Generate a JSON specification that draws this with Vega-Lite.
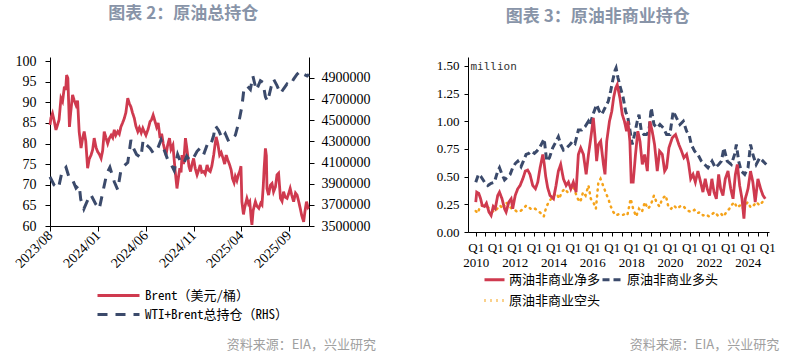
{
"$schema":"https://vega.github.io/schema/vega-lite/v6.json",
"padding":{"left":12,"top":5,"right":5,"bottom":5},
"config":{"view":{"stroke":null},"axis":{"domainColor":"#000","tickColor":"#000","labelColor":"#000","grid":false,"labelFont":"Liberation Serif"},"legend":{"labelFont":"'Noto Sans Mono CJK SC','Noto Sans CJK SC',monospace","labelColor":"#000","labelFontSize":13,"symbolType":"stroke","title":null}},
"datasets":{
"brent":[{"d":"2023-08-01","v":84.5},{"d":"2023-08-04","v":86.2},{"d":"2023-08-09","v":87.3},{"d":"2023-08-14","v":85.6},{"d":"2023-08-20","v":83.3},{"d":"2023-08-25","v":84.5},{"d":"2023-08-30","v":85.8},{"d":"2023-09-05","v":91},{"d":"2023-09-10","v":90.2},{"d":"2023-09-16","v":93.8},{"d":"2023-09-20","v":93.0},{"d":"2023-09-23","v":96.6},{"d":"2023-09-27","v":95.8},{"d":"2023-10-02","v":84},{"d":"2023-10-06","v":87.5},{"d":"2023-10-12","v":91.8},{"d":"2023-10-17","v":90.5},{"d":"2023-10-23","v":89.3},{"d":"2023-10-28","v":90.4},{"d":"2023-11-02","v":82.9},{"d":"2023-11-08","v":78.9},{"d":"2023-11-13","v":81.2},{"d":"2023-11-18","v":82.9},{"d":"2023-11-23","v":80.6},{"d":"2023-11-29","v":74.0},{"d":"2023-12-04","v":76.2},{"d":"2023-12-10","v":77.2},{"d":"2023-12-15","v":78.5},{"d":"2023-12-20","v":81.3},{"d":"2023-12-26","v":79.0},{"d":"2023-12-31","v":78.0},{"d":"2024-01-06","v":77.3},{"d":"2024-01-11","v":76.4},{"d":"2024-01-16","v":78.3},{"d":"2024-01-21","v":82.9},{"d":"2024-01-26","v":81.5},{"d":"2024-02-01","v":80.0},{"d":"2024-02-06","v":81.2},{"d":"2024-02-12","v":82.0},{"d":"2024-02-17","v":81.4},{"d":"2024-02-22","v":83.3},{"d":"2024-02-27","v":82.0},{"d":"2024-03-04","v":82.9},{"d":"2024-03-09","v":82.3},{"d":"2024-03-14","v":84.0},{"d":"2024-03-20","v":85.1},{"d":"2024-03-25","v":86.1},{"d":"2024-03-30","v":87.5},{"d":"2024-04-05","v":91.0},{"d":"2024-04-10","v":89.7},{"d":"2024-04-15","v":88.9},{"d":"2024-04-20","v":87.5},{"d":"2024-04-26","v":86.1},{"d":"2024-05-01","v":84.2},{"d":"2024-05-07","v":82.9},{"d":"2024-05-12","v":83.8},{"d":"2024-05-18","v":82.6},{"d":"2024-05-23","v":83.7},{"d":"2024-05-28","v":82.8},{"d":"2024-06-02","v":82.0},{"d":"2024-06-09","v":83.5},{"d":"2024-06-15","v":85.3},{"d":"2024-06-20","v":85.8},{"d":"2024-06-25","v":86.9},{"d":"2024-06-30","v":85.6},{"d":"2024-07-06","v":84.0},{"d":"2024-07-11","v":85.0},{"d":"2024-07-17","v":81.3},{"d":"2024-07-22","v":82.4},{"d":"2024-07-27","v":80.0},{"d":"2024-08-05","v":77.2},{"d":"2024-08-10","v":79.5},{"d":"2024-08-16","v":81.3},{"d":"2024-08-21","v":78.6},{"d":"2024-08-27","v":79.6},{"d":"2024-09-03","v":73.5},{"d":"2024-09-09","v":69.1},{"d":"2024-09-14","v":72.0},{"d":"2024-09-18","v":74.0},{"d":"2024-09-22","v":73.0},{"d":"2024-09-25","v":77.2},{"d":"2024-09-30","v":75.0},{"d":"2024-10-06","v":81.3},{"d":"2024-10-10","v":79.0},{"d":"2024-10-13","v":77.2},{"d":"2024-10-17","v":74.5},{"d":"2024-10-22","v":73.2},{"d":"2024-10-27","v":75.0},{"d":"2024-11-01","v":76.4},{"d":"2024-11-06","v":74.0},{"d":"2024-11-12","v":72.4},{"d":"2024-11-17","v":73.5},{"d":"2024-11-22","v":74.8},{"d":"2024-11-27","v":73.0},{"d":"2024-12-03","v":73.2},{"d":"2024-12-08","v":72.6},{"d":"2024-12-14","v":74.8},{"d":"2024-12-19","v":73.5},{"d":"2024-12-24","v":73.2},{"d":"2024-12-29","v":74.5},{"d":"2025-01-04","v":77.2},{"d":"2025-01-08","v":79.5},{"d":"2025-01-12","v":81.6},{"d":"2025-01-17","v":80.0},{"d":"2025-01-23","v":77.2},{"d":"2025-01-28","v":77.8},{"d":"2025-02-03","v":76.4},{"d":"2025-02-08","v":75.0},{"d":"2025-02-13","v":77.2},{"d":"2025-02-18","v":76.0},{"d":"2025-02-24","v":74.8},{"d":"2025-03-01","v":73.5},{"d":"2025-03-05","v":71.5},{"d":"2025-03-10","v":70.5},{"d":"2025-03-14","v":72.0},{"d":"2025-03-19","v":71.0},{"d":"2025-03-24","v":72.5},{"d":"2025-03-28","v":73.2},{"d":"2025-04-01","v":74.5},{"d":"2025-04-04","v":65.9},{"d":"2025-04-09","v":62.8},{"d":"2025-04-13","v":64.5},{"d":"2025-04-20","v":66.7},{"d":"2025-04-25","v":65.4},{"d":"2025-04-29","v":65.9},{"d":"2025-05-04","v":61.5},{"d":"2025-05-06","v":60.3},{"d":"2025-05-10","v":63.8},{"d":"2025-05-17","v":65.9},{"d":"2025-05-22","v":64.8},{"d":"2025-05-28","v":64.3},{"d":"2025-06-03","v":65.5},{"d":"2025-06-07","v":65.1},{"d":"2025-06-11","v":69.5},{"d":"2025-06-14","v":74.0},{"d":"2025-06-18","v":78.8},{"d":"2025-06-21","v":77.0},{"d":"2025-06-23","v":69.1},{"d":"2025-06-28","v":67.5},{"d":"2025-07-04","v":69.9},{"d":"2025-07-09","v":70.3},{"d":"2025-07-14","v":68.3},{"d":"2025-07-20","v":69.5},{"d":"2025-07-25","v":72.4},{"d":"2025-07-30","v":72.8},{"d":"2025-08-05","v":66.7},{"d":"2025-08-10","v":66.0},{"d":"2025-08-15","v":68.3},{"d":"2025-08-20","v":67.0},{"d":"2025-08-26","v":66.7},{"d":"2025-08-31","v":67.8},{"d":"2025-09-05","v":69.1},{"d":"2025-09-10","v":67.5},{"d":"2025-09-16","v":65.9},{"d":"2025-09-22","v":68.0},{"d":"2025-09-27","v":67.5},{"d":"2025-10-02","v":66.0},{"d":"2025-10-07","v":64.3},{"d":"2025-10-12","v":62.5},{"d":"2025-10-18","v":61.0},{"d":"2025-10-22","v":63.5},{"d":"2025-10-27","v":65.9},{"d":"2025-11-01","v":64.5},{"d":"2025-11-03","v":64.7}],
"pos":[{"d":"2023-08-01","p":3964000},{"d":"2023-08-14","p":3888000},{"d":"2023-08-28","p":3858000},{"d":"2023-09-08","p":4009000},{"d":"2023-09-21","p":4055000},{"d":"2023-10-02","p":3948000},{"d":"2023-10-12","p":3936000},{"d":"2023-10-23","p":3858000},{"d":"2023-11-02","p":3888000},{"d":"2023-11-07","p":3752000},{"d":"2023-11-17","p":3661000},{"d":"2023-11-28","p":3736000},{"d":"2023-12-09","p":3797000},{"d":"2023-12-25","p":3706000},{"d":"2024-01-05","p":3661000},{"d":"2024-01-18","p":3842000},{"d":"2024-01-29","p":3994000},{"d":"2024-02-08","p":4055000},{"d":"2024-02-22","p":3918000},{"d":"2024-03-04","p":3842000},{"d":"2024-03-14","p":4024000},{"d":"2024-03-25","p":4070000},{"d":"2024-04-05","p":4100000},{"d":"2024-04-15","p":4312000},{"d":"2024-04-23","p":4236000},{"d":"2024-05-03","p":4176000},{"d":"2024-05-17","p":4145000},{"d":"2024-05-24","p":4312000},{"d":"2024-06-04","p":4266000},{"d":"2024-06-15","p":4236000},{"d":"2024-06-25","p":4190000},{"d":"2024-07-06","p":4206000},{"d":"2024-07-20","p":4312000},{"d":"2024-07-30","p":4221000},{"d":"2024-08-10","p":4130000},{"d":"2024-08-21","p":4085000},{"d":"2024-08-31","p":4024000},{"d":"2024-09-11","p":4176000},{"d":"2024-09-19","p":4115000},{"d":"2024-09-30","p":4085000},{"d":"2024-10-10","p":4161000},{"d":"2024-10-21","p":4115000},{"d":"2024-11-01","p":4145000},{"d":"2024-11-12","p":4206000},{"d":"2024-11-22","p":4236000},{"d":"2024-12-03","p":4176000},{"d":"2024-12-14","p":4266000},{"d":"2024-12-24","p":4251000},{"d":"2025-01-04","p":4357000},{"d":"2025-01-09","p":4448000},{"d":"2025-01-20","p":4403000},{"d":"2025-01-31","p":4327000},{"d":"2025-02-10","p":4373000},{"d":"2025-02-21","p":4297000},{"d":"2025-03-03","p":4327000},{"d":"2025-03-14","p":4357000},{"d":"2025-03-25","p":4479000},{"d":"2025-04-04","p":4630000},{"d":"2025-04-10","p":4782000},{"d":"2025-04-20","p":4827000},{"d":"2025-05-01","p":4790000},{"d":"2025-05-09","p":4918000},{"d":"2025-05-20","p":4782000},{"d":"2025-06-02","p":4873000},{"d":"2025-06-10","p":4857000},{"d":"2025-06-18","p":4721000},{"d":"2025-06-25","p":4675000},{"d":"2025-07-06","p":4812000},{"d":"2025-07-14","p":4888000},{"d":"2025-07-25","p":4827000},{"d":"2025-08-05","p":4751000},{"d":"2025-08-15","p":4797000},{"d":"2025-08-26","p":4842000},{"d":"2025-09-05","p":4827000},{"d":"2025-09-16","p":4888000},{"d":"2025-09-27","p":4934000},{"d":"2025-10-07","p":4964000},{"d":"2025-10-18","p":4934000},{"d":"2025-10-29","p":4918000},{"d":"2025-11-04","p":4934000}],
"net":[{"t":2010.00,"v":0.27},{"t":2010.05,"v":0.36},{"t":2010.15,"v":0.35},{"t":2010.25,"v":0.30},{"t":2010.33,"v":0.24},{"t":2010.45,"v":0.23},{"t":2010.55,"v":0.26},{"t":2010.68,"v":0.18},{"t":2010.79,"v":0.15},{"t":2010.90,"v":0.23},{"t":2011.00,"v":0.21},{"t":2011.13,"v":0.33},{"t":2011.22,"v":0.36},{"t":2011.35,"v":0.30},{"t":2011.48,"v":0.21},{"t":2011.56,"v":0.18},{"t":2011.70,"v":0.27},{"t":2011.82,"v":0.30},{"t":2011.90,"v":0.21},{"t":2012.03,"v":0.33},{"t":2012.16,"v":0.39},{"t":2012.28,"v":0.42},{"t":2012.42,"v":0.48},{"t":2012.55,"v":0.55},{"t":2012.67,"v":0.56},{"t":2012.79,"v":0.52},{"t":2012.93,"v":0.42},{"t":2013.07,"v":0.39},{"t":2013.19,"v":0.45},{"t":2013.31,"v":0.58},{"t":2013.45,"v":0.70},{"t":2013.52,"v":0.62},{"t":2013.60,"v":0.50},{"t":2013.70,"v":0.40},{"t":2013.82,"v":0.33},{"t":2014.00,"v":0.30},{"t":2014.13,"v":0.42},{"t":2014.25,"v":0.55},{"t":2014.37,"v":0.61},{"t":2014.51,"v":0.48},{"t":2014.65,"v":0.42},{"t":2014.77,"v":0.45},{"t":2014.89,"v":0.39},{"t":2015.02,"v":0.45},{"t":2015.16,"v":0.36},{"t":2015.28,"v":0.70},{"t":2015.40,"v":0.76},{"t":2015.54,"v":0.70},{"t":2015.68,"v":0.52},{"t":2015.80,"v":0.70},{"t":2015.92,"v":0.85},{"t":2016.05,"v":1.03},{"t":2016.14,"v":0.85},{"t":2016.22,"v":0.64},{"t":2016.31,"v":0.79},{"t":2016.43,"v":0.82},{"t":2016.57,"v":0.61},{"t":2016.65,"v":0.52},{"t":2016.74,"v":0.82},{"t":2016.88,"v":1.00},{"t":2017.00,"v":1.09},{"t":2017.10,"v":1.22},{"t":2017.20,"v":1.30},{"t":2017.28,"v":1.33},{"t":2017.42,"v":1.21},{"t":2017.54,"v":1.06},{"t":2017.65,"v":1.00},{"t":2017.76,"v":0.91},{"t":2017.83,"v":1.00},{"t":2017.93,"v":0.82},{"t":2018.00,"v":0.45},{"t":2018.10,"v":0.45},{"t":2018.22,"v":0.70},{"t":2018.34,"v":0.91},{"t":2018.45,"v":0.82},{"t":2018.57,"v":0.61},{"t":2018.69,"v":0.70},{"t":2018.83,"v":0.55},{"t":2018.96,"v":1.00},{"t":2019.08,"v":0.91},{"t":2019.20,"v":0.79},{"t":2019.34,"v":0.55},{"t":2019.46,"v":0.73},{"t":2019.60,"v":0.70},{"t":2019.72,"v":0.55},{"t":2019.82,"v":0.58},{"t":2019.94,"v":0.76},{"t":2020.11,"v":0.85},{"t":2020.28,"v":0.88},{"t":2020.45,"v":0.79},{"t":2020.59,"v":0.73},{"t":2020.71,"v":0.67},{"t":2020.85,"v":0.70},{"t":2020.95,"v":0.62},{"t":2021.06,"v":0.48},{"t":2021.18,"v":0.52},{"t":2021.30,"v":0.45},{"t":2021.43,"v":0.55},{"t":2021.57,"v":0.45},{"t":2021.69,"v":0.36},{"t":2021.81,"v":0.48},{"t":2021.91,"v":0.39},{"t":2022.03,"v":0.33},{"t":2022.15,"v":0.48},{"t":2022.26,"v":0.36},{"t":2022.38,"v":0.30},{"t":2022.50,"v":0.52},{"t":2022.60,"v":0.39},{"t":2022.72,"v":0.33},{"t":2022.84,"v":0.48},{"t":2022.98,"v":0.55},{"t":2023.12,"v":0.39},{"t":2023.24,"v":0.30},{"t":2023.36,"v":0.52},{"t":2023.46,"v":0.61},{"t":2023.58,"v":0.42},{"t":2023.70,"v":0.30},{"t":2023.80,"v":0.12},{"t":2023.87,"v":0.30},{"t":2024.01,"v":0.39},{"t":2024.14,"v":0.55},{"t":2024.26,"v":0.45},{"t":2024.38,"v":0.27},{"t":2024.52,"v":0.48},{"t":2024.66,"v":0.39},{"t":2024.78,"v":0.33},{"t":2024.90,"v":0.30}],
"long":[{"t":2010.00,"v":0.45},{"t":2010.14,"v":0.52},{"t":2010.27,"v":0.50},{"t":2010.45,"v":0.45},{"t":2010.62,"v":0.42},{"t":2010.79,"v":0.44},{"t":2010.96,"v":0.45},{"t":2011.13,"v":0.55},{"t":2011.22,"v":0.58},{"t":2011.35,"v":0.52},{"t":2011.48,"v":0.47},{"t":2011.65,"v":0.50},{"t":2011.77,"v":0.52},{"t":2011.90,"v":0.58},{"t":2012.04,"v":0.62},{"t":2012.16,"v":0.64},{"t":2012.33,"v":0.59},{"t":2012.45,"v":0.64},{"t":2012.59,"v":0.70},{"t":2012.73,"v":0.71},{"t":2012.85,"v":0.73},{"t":2013.02,"v":0.71},{"t":2013.14,"v":0.73},{"t":2013.28,"v":0.76},{"t":2013.40,"v":0.80},{"t":2013.52,"v":0.84},{"t":2013.65,"v":0.64},{"t":2013.79,"v":0.67},{"t":2013.96,"v":0.76},{"t":2014.08,"v":0.80},{"t":2014.25,"v":0.86},{"t":2014.37,"v":0.79},{"t":2014.51,"v":0.74},{"t":2014.68,"v":0.76},{"t":2014.85,"v":0.79},{"t":2014.99,"v":0.82},{"t":2015.11,"v":0.80},{"t":2015.28,"v":0.92},{"t":2015.45,"v":0.92},{"t":2015.62,"v":0.95},{"t":2015.80,"v":1.00},{"t":2015.88,"v":0.97},{"t":2016.05,"v":1.07},{"t":2016.22,"v":1.15},{"t":2016.36,"v":1.09},{"t":2016.48,"v":1.06},{"t":2016.65,"v":1.12},{"t":2016.82,"v":1.18},{"t":2016.95,"v":1.28},{"t":2017.05,"v":1.37},{"t":2017.17,"v":1.46},{"t":2017.22,"v":1.48},{"t":2017.32,"v":1.39},{"t":2017.45,"v":1.30},{"t":2017.59,"v":1.21},{"t":2017.71,"v":1.09},{"t":2017.83,"v":1.03},{"t":2017.97,"v":0.88},{"t":2018.05,"v":0.79},{"t":2018.17,"v":0.88},{"t":2018.31,"v":1.00},{"t":2018.40,"v":1.06},{"t":2018.52,"v":0.91},{"t":2018.65,"v":0.88},{"t":2018.79,"v":0.88},{"t":2018.91,"v":0.91},{"t":2019.03,"v":1.12},{"t":2019.17,"v":0.97},{"t":2019.34,"v":0.94},{"t":2019.48,"v":0.97},{"t":2019.65,"v":0.94},{"t":2019.82,"v":0.88},{"t":2019.99,"v":0.88},{"t":2020.16,"v":1.09},{"t":2020.33,"v":1.03},{"t":2020.51,"v":0.97},{"t":2020.68,"v":1.00},{"t":2020.85,"v":0.91},{"t":2020.99,"v":0.87},{"t":2021.09,"v":0.79},{"t":2021.26,"v":0.73},{"t":2021.43,"v":0.70},{"t":2021.61,"v":0.64},{"t":2021.78,"v":0.61},{"t":2021.95,"v":0.58},{"t":2022.16,"v":0.64},{"t":2022.33,"v":0.58},{"t":2022.50,"v":0.61},{"t":2022.64,"v":0.64},{"t":2022.77,"v":0.76},{"t":2022.94,"v":0.64},{"t":2023.15,"v":0.61},{"t":2023.32,"v":0.70},{"t":2023.41,"v":0.79},{"t":2023.53,"v":0.64},{"t":2023.66,"v":0.55},{"t":2023.84,"v":0.52},{"t":2024.01,"v":0.58},{"t":2024.14,"v":0.79},{"t":2024.26,"v":0.70},{"t":2024.43,"v":0.61},{"t":2024.61,"v":0.67},{"t":2024.78,"v":0.64},{"t":2024.95,"v":0.61}],
"short":[{"t":2010.00,"v":0.19},{"t":2010.10,"v":0.17},{"t":2010.22,"v":0.23},{"t":2010.35,"v":0.24},{"t":2010.50,"v":0.23},{"t":2010.65,"v":0.22},{"t":2010.80,"v":0.20},{"t":2010.95,"v":0.18},{"t":2011.10,"v":0.21},{"t":2011.25,"v":0.24},{"t":2011.40,"v":0.21},{"t":2011.55,"v":0.27},{"t":2011.70,"v":0.24},{"t":2011.85,"v":0.21},{"t":2012.00,"v":0.20},{"t":2012.15,"v":0.18},{"t":2012.30,"v":0.19},{"t":2012.45,"v":0.21},{"t":2012.60,"v":0.24},{"t":2012.75,"v":0.22},{"t":2012.90,"v":0.20},{"t":2013.05,"v":0.21},{"t":2013.20,"v":0.19},{"t":2013.35,"v":0.17},{"t":2013.50,"v":0.14},{"t":2013.62,"v":0.22},{"t":2013.75,"v":0.27},{"t":2013.88,"v":0.30},{"t":2014.00,"v":0.33},{"t":2014.15,"v":0.35},{"t":2014.30,"v":0.30},{"t":2014.42,"v":0.36},{"t":2014.58,"v":0.39},{"t":2014.72,"v":0.36},{"t":2014.85,"v":0.38},{"t":2015.00,"v":0.42},{"t":2015.12,"v":0.36},{"t":2015.25,"v":0.30},{"t":2015.38,"v":0.27},{"t":2015.52,"v":0.36},{"t":2015.65,"v":0.33},{"t":2015.80,"v":0.42},{"t":2015.92,"v":0.30},{"t":2016.05,"v":0.27},{"t":2016.18,"v":0.21},{"t":2016.31,"v":0.45},{"t":2016.42,"v":0.48},{"t":2016.55,"v":0.42},{"t":2016.68,"v":0.36},{"t":2016.82,"v":0.30},{"t":2016.95,"v":0.23},{"t":2017.08,"v":0.18},{"t":2017.20,"v":0.15},{"t":2017.35,"v":0.16},{"t":2017.50,"v":0.15},{"t":2017.65,"v":0.16},{"t":2017.80,"v":0.15},{"t":2017.97,"v":0.30},{"t":2018.10,"v":0.21},{"t":2018.25,"v":0.14},{"t":2018.40,"v":0.21},{"t":2018.55,"v":0.18},{"t":2018.70,"v":0.27},{"t":2018.85,"v":0.21},{"t":2019.00,"v":0.24},{"t":2019.17,"v":0.33},{"t":2019.30,"v":0.27},{"t":2019.45,"v":0.23},{"t":2019.60,"v":0.30},{"t":2019.78,"v":0.33},{"t":2019.92,"v":0.22},{"t":2020.05,"v":0.21},{"t":2020.20,"v":0.24},{"t":2020.35,"v":0.21},{"t":2020.50,"v":0.23},{"t":2020.65,"v":0.24},{"t":2020.80,"v":0.21},{"t":2020.95,"v":0.19},{"t":2021.10,"v":0.18},{"t":2021.25,"v":0.20},{"t":2021.40,"v":0.17},{"t":2021.55,"v":0.18},{"t":2021.70,"v":0.15},{"t":2021.85,"v":0.16},{"t":2022.00,"v":0.14},{"t":2022.15,"v":0.16},{"t":2022.30,"v":0.18},{"t":2022.45,"v":0.15},{"t":2022.60,"v":0.17},{"t":2022.75,"v":0.14},{"t":2022.90,"v":0.18},{"t":2023.05,"v":0.21},{"t":2023.15,"v":0.24},{"t":2023.30,"v":0.27},{"t":2023.45,"v":0.22},{"t":2023.60,"v":0.24},{"t":2023.72,"v":0.21},{"t":2023.85,"v":0.24},{"t":2024.00,"v":0.27},{"t":2024.15,"v":0.22},{"t":2024.30,"v":0.24},{"t":2024.45,"v":0.27},{"t":2024.60,"v":0.24},{"t":2024.75,"v":0.27},{"t":2024.90,"v":0.29}]
},
"spacing":60,
"resolve":{"scale":{"color":"independent","strokeDash":"independent"},"legend":{"color":"independent","strokeDash":"independent"}},
"hconcat":[
{"title":{"text":"资料来源：EIA，兴业研究","orient":"bottom","anchor":"end","frame":"bounds","offset":17,"dx":6,"fontSize":13,"fontWeight":"normal","color":"#a0a0a0","font":"Noto Sans CJK SC"},
 "vconcat":[
 {"title":{"text":"图表 2：原油总持仓","frame":"bounds","anchor":"middle","offset":31,"dx":-8,"fontSize":17,"fontWeight":"bold","color":"#8894a8","font":"Noto Sans CJK SC"},
  "width":259,"height":169,
  "resolve":{"scale":{"y":"independent"}},
  "layer":[
   {"data":{"name":"brent"},"mark":{"type":"line","strokeWidth":2.8},
    "encoding":{
     "x":{"field":"d","type":"temporal","scale":{"domain":[{"year":2023,"month":8,"date":1,"utc":true},{"year":2025,"month":11,"date":4,"utc":true}]},
      "axis":{"title":null,"values":[{"year":2023,"month":8,"date":1,"utc":true},{"year":2024,"month":1,"date":1,"utc":true},{"year":2024,"month":6,"date":1,"utc":true},{"year":2024,"month":11,"date":1,"utc":true},{"year":2025,"month":4,"date":1,"utc":true},{"year":2025,"month":9,"date":1,"utc":true}],"labelExpr":"utcFormat(datum.value,'%Y/%m')","labelAngle":-45,"labelAlign":"right","labelBaseline":"middle","labelFontSize":14,"tickSize":5,"labelPadding":2,"labelOverlap":false}},
     "y":{"field":"v","type":"quantitative","scale":{"domain":[60,100.97],"nice":false,"zero":false},"axis":{"title":null,"values":[60,65,70,75,80,85,90,95,100],"labelFontSize":14,"tickSize":5,"labelPadding":9}},
     "color":{"datum":"Brent（美元/桶）","type":"nominal","scale":{"domain":["Brent（美元/桶）","WTI+Brent总持仓（RHS）"],"range":["#cf3a4f","#3b4a6b"]},"legend":{"orient":"none","legendX":57,"legendY":227,"direction":"vertical","symbolType":"M-2.1,0H2.1","symbolSize":400,"symbolStrokeWidth":3,"rowPadding":0,"labelOffset":15}},
     "strokeDash":{"datum":"Brent（美元/桶）","type":"nominal","scale":{"domain":["Brent（美元/桶）","WTI+Brent总持仓（RHS）"],"range":[[1,0],[10,8]]},"legend":{"orient":"none","legendX":57,"legendY":227,"direction":"vertical","symbolType":"M-2.1,0H2.1","symbolSize":400,"symbolStrokeWidth":3,"rowPadding":0,"labelOffset":15}}
    }},
   {"data":{"name":"pos"},"mark":{"type":"line","strokeWidth":3},
    "encoding":{
     "x":{"field":"d","type":"temporal"},
     "y":{"field":"p","type":"quantitative","scale":{"domain":[3500000,5097000],"nice":false,"zero":false},"axis":{"orient":"right","title":null,"values":[3500000,3700000,3900000,4100000,4300000,4500000,4700000,4900000],"format":"d","labelFontSize":14,"tickSize":5,"labelPadding":7}},
     "color":{"datum":"WTI+Brent总持仓（RHS）","type":"nominal"},
     "strokeDash":{"datum":"WTI+Brent总持仓（RHS）","type":"nominal"}
    }}
  ]}
 ]},
{"title":{"text":"资料来源：EIA，兴业研究","orient":"bottom","anchor":"end","frame":"bounds","offset":31,"dx":4,"fontSize":13,"fontWeight":"normal","color":"#a0a0a0","font":"Noto Sans CJK SC"},
 "vconcat":[
 {"title":{"text":"图表 3：原油非商业持仓","frame":"bounds","anchor":"middle","offset":31,"dx":-8,"fontSize":17,"fontWeight":"bold","color":"#8894a8","font":"Noto Sans CJK SC"},
  "width":301,"height":175,
  "encoding":{
   "x":{"field":"t","type":"quantitative","scale":{"domain":[2009.6,2025.09],"nice":false,"zero":false},
    "axis":{"title":null,"values":[2010,2010.5,2011,2011.5,2012,2012.5,2013,2013.5,2014,2014.5,2015,2015.5,2016,2016.5,2017,2017.5,2018,2018.5,2019,2019.5,2020,2020.5,2021,2021.5,2022,2022.5,2023,2023.5,2024,2024.5,2025],"labelExpr":"datum.value % 1 == 0 ? ['Q1', datum.value % 2 == 0 ? format(datum.value,'d') : ''] : ''","labelFontSize":13,"tickSize":4,"labelOverlap":false,"labelLineHeight":15,"labelPadding":5}},
   "y":{"field":"v","type":"quantitative","scale":{"domain":[0,1.58],"nice":false},
    "axis":{"title":"million","titleAngle":0,"titleAlign":"left","titleBaseline":"middle","titleX":2,"titleY":9,"titleFont":"DejaVu Sans Mono","titleFontSize":11,"titleFontWeight":"normal","titleColor":"#333","values":[0,0.25,0.5,0.75,1,1.25,1.5],"format":".2f","labelFontSize":13,"tickSize":4,"labelPadding":5}}
  },
  "layer":[
   {"data":{"name":"short"},"mark":{"type":"line","strokeWidth":2.5,"strokeCap":"round"},
    "encoding":{
     "color":{"datum":"原油非商业空头","type":"nominal","scale":{"domain":["两油非商业净多","原油非商业多头","原油非商业空头"],"range":["#cf3a4f","#3b4a6b","#f5a31a"]},"legend":{"orient":"none","legendX":15,"legendY":211,"direction":"horizontal","columns":2,"symbolSize":400,"symbolStrokeWidth":3,"rowPadding":2,"columnPadding":-18,"labelOffset":3}},
     "strokeDash":{"datum":"原油非商业空头","type":"nominal","scale":{"domain":["两油非商业净多","原油非商业多头","原油非商业空头"],"range":[[1,0],[7,4],[1,5]]},"legend":{"orient":"none","legendX":15,"legendY":211,"direction":"horizontal","columns":2,"symbolSize":400,"symbolStrokeWidth":3,"rowPadding":2,"columnPadding":-18,"labelOffset":3}}
    }},
   {"data":{"name":"long"},"mark":{"type":"line","strokeWidth":3},
    "encoding":{"color":{"datum":"原油非商业多头","type":"nominal"},"strokeDash":{"datum":"原油非商业多头","type":"nominal"}}},
   {"data":{"name":"net"},"mark":{"type":"line","strokeWidth":2.8},
    "encoding":{"color":{"datum":"两油非商业净多","type":"nominal"},"strokeDash":{"datum":"两油非商业净多","type":"nominal"}}}
  ]}
 ]}
]
}
